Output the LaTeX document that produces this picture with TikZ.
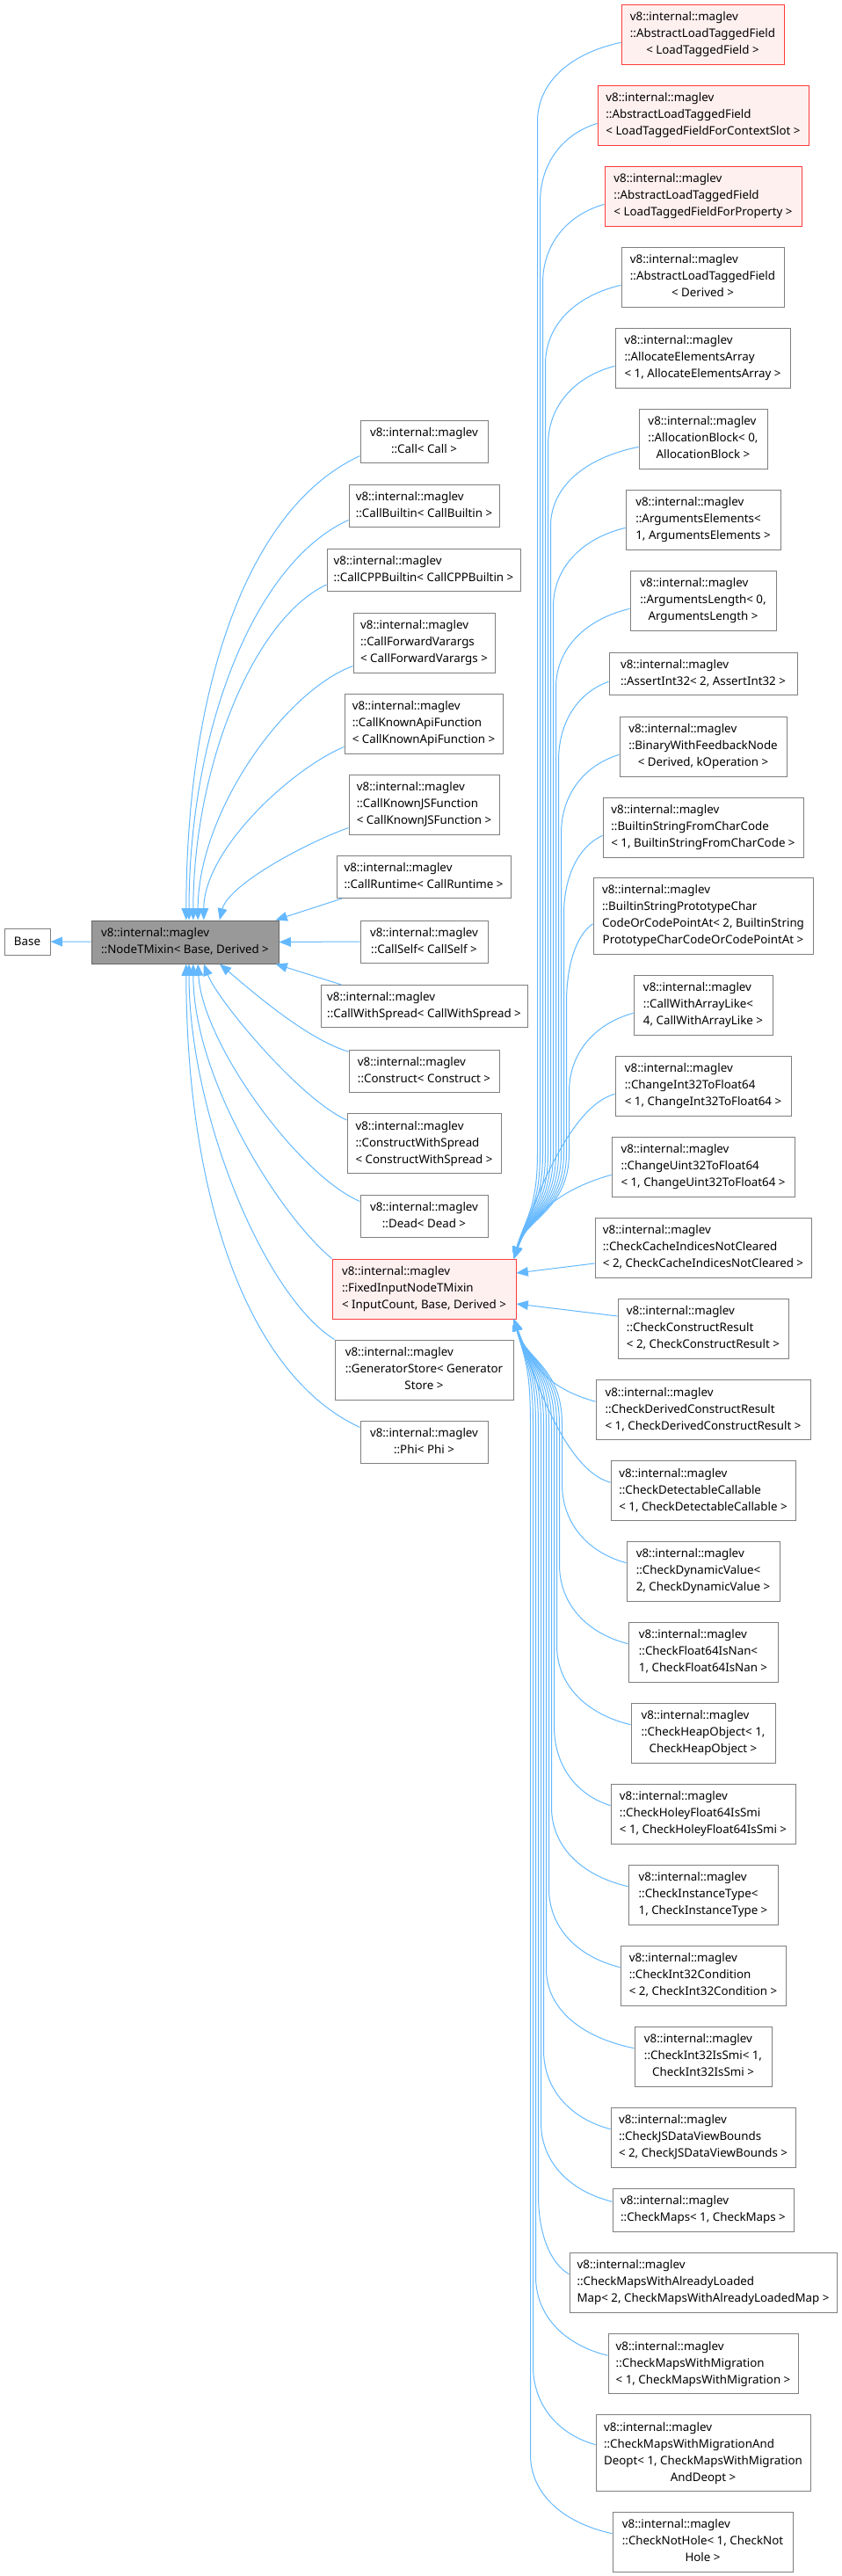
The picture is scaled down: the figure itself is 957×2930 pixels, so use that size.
\documentclass[tikz,border=0pt]{standalone}
\usepackage{fontspec}
\setmainfont{Noto Sans}
\usetikzlibrary{arrows.meta}
\definecolor{edgeblue}{HTML}{63B8FF}
\definecolor{boxgray}{HTML}{7F7F7F}
\definecolor{curgray}{HTML}{999999}
\definecolor{curline}{HTML}{666666}
\definecolor{truncred}{HTML}{FF3B3B}
\definecolor{truncfill}{HTML}{FFF0F0}
\newcommand{\clsfont}{\fontsize{10}{14.3}\selectfont}
% all lines but the last left-aligned, last one centred
\newcommand{\lbl}[2]{\begin{tabular}{@{}l@{}}#1\\\multicolumn{1}{@{}c@{}}{#2}\end{tabular}}
\tikzset{
  cls/.style={draw=boxgray, fill=white, line width=0.75pt, inner sep=0pt, font=\clsfont},
  trunc/.style={cls, draw=truncred, fill=truncfill},
  cur/.style={cls, draw=curline, fill=curgray},
  sz/.style 2 args={minimum width=#1*0.75pt, minimum height=#2*0.75pt},
  inh/.style={draw=edgeblue, line width=0.75pt, -{Triangle[length=10pt,width=8pt]}}
}
\begin{document}
\begin{tikzpicture}[x=0.75pt,y=-0.75pt]
\useasboundingbox (0,0) rectangle (957,2930);
% left
\node[cls,sz={52}{30}] (base) at (31,1071) {Base};
\node[cur,sz={213}{49}] (nt) at (210.5,1071.5) {\lbl{v8::internal::maglev}{::NodeTMixin< Base, Derived >}};
% middle column
\node[cls,sz={145}{48}] (call) at (482.5,502) {\lbl{v8::internal::maglev}{::Call< Call >}};
\node[cls,sz={171}{48}] (callb) at (482.5,575) {\lbl{v8::internal::maglev}{::CallBuiltin< CallBuiltin >}};
\node[cls,sz={220}{48}] (callcpp) at (482,648.5) {\lbl{v8::internal::maglev}{::CallCPPBuiltin< CallCPPBuiltin >}};
\node[cls,sz={161}{68}] (callfv) at (482.5,731) {\lbl{v8::internal::maglev\\::CallForwardVarargs}{< CallForwardVarargs >}};
\node[cls,sz={180}{68}] (callapi) at (482,823) {\lbl{v8::internal::maglev\\::CallKnownApiFunction}{< CallKnownApiFunction >}};
\node[cls,sz={171}{68}] (calljs) at (482.5,915) {\lbl{v8::internal::maglev\\::CallKnownJSFunction}{< CallKnownJSFunction >}};
\node[cls,sz={198}{48}] (callrt) at (482,997.5) {\lbl{v8::internal::maglev}{::CallRuntime< CallRuntime >}};
\node[cls,sz={145}{48}] (callself) at (482.5,1071) {\lbl{v8::internal::maglev}{::CallSelf< CallSelf >}};
\node[cls,sz={235}{48}] (callws) at (482.5,1144.5) {\lbl{v8::internal::maglev}{::CallWithSpread< CallWithSpread >}};
\node[cls,sz={171}{48}] (cons) at (482.5,1218) {\lbl{v8::internal::maglev}{::Construct< Construct >}};
\node[cls,sz={175}{68}] (consws) at (482.5,1300.5) {\lbl{v8::internal::maglev\\::ConstructWithSpread}{< ConstructWithSpread >}};
\node[cls,sz={145}{48}] (dead) at (482.5,1383) {\lbl{v8::internal::maglev}{::Dead< Dead >}};
\node[trunc,sz={209}{68}] (fixed) at (482.5,1466) {\lbl{v8::internal::maglev\\::FixedInputNodeTMixin}{< InputCount, Base, Derived >}};
\node[cls,sz={203}{68}] (gen) at (482.5,1558) {\lbl{v8::internal::maglev\\::GeneratorStore< Generator}{Store >}};
\node[cls,sz={145}{48}] (phi) at (482.5,1640) {\lbl{v8::internal::maglev}{::Phi< Phi >}};
% right column
\node[trunc,sz={185}{68}] (altfa) at (799.5,39) {\lbl{v8::internal::maglev\\::AbstractLoadTaggedField}{< LoadTaggedField >}};
\node[trunc,sz={240}{68}] (altfb) at (800,131) {\lbl{v8::internal::maglev\\::AbstractLoadTaggedField}{< LoadTaggedFieldForContextSlot >}};
\node[trunc,sz={224}{68}] (altfc) at (800,223) {\lbl{v8::internal::maglev\\::AbstractLoadTaggedField}{< LoadTaggedFieldForProperty >}};
\node[cls,sz={185}{68}] (altfd) at (799.5,315) {\lbl{v8::internal::maglev\\::AbstractLoadTaggedField}{< Derived >}};
\node[cls,sz={199}{68}] (allocarr) at (799.5,407) {\lbl{v8::internal::maglev\\::AllocateElementsArray}{< 1, AllocateElementsArray >}};
\node[cls,sz={146}{68}] (allocblk) at (800,499) {\lbl{v8::internal::maglev\\::AllocationBlock< 0,}{AllocationBlock >}};
\node[cls,sz={176}{68}] (argelem) at (800,591) {\lbl{v8::internal::maglev\\::ArgumentsElements<}{1, ArgumentsElements >}};
\node[cls,sz={166}{68}] (arglen) at (800,683) {\lbl{v8::internal::maglev\\::ArgumentsLength< 0,}{ArgumentsLength >}};
\node[cls,sz={214}{48}] (assert) at (800,766) {\lbl{v8::internal::maglev}{::AssertInt32< 2, AssertInt32 >}};
\node[cls,sz={190}{68}] (binfb) at (800,849) {\lbl{v8::internal::maglev\\::BinaryWithFeedbackNode}{< Derived, kOperation >}};
\node[cls,sz={228}{68}] (bsfcc) at (800,941) {\lbl{v8::internal::maglev\\::BuiltinStringFromCharCode}{< 1, BuiltinStringFromCharCode >}};
\node[cls,sz={250}{87}] (bspcc) at (800,1041.5) {\lbl{v8::internal::maglev\\::BuiltinStringPrototypeChar\\CodeOrCodePointAt< 2, BuiltinString}{PrototypeCharCodeOrCodePointAt >}};
\node[cls,sz={158}{68}] (callarr) at (800,1143) {\lbl{v8::internal::maglev\\::CallWithArrayLike<}{4, CallWithArrayLike >}};
\node[cls,sz={200}{68}] (chi2f) at (800,1235) {\lbl{v8::internal::maglev\\::ChangeInt32ToFloat64}{< 1, ChangeInt32ToFloat64 >}};
\node[cls,sz={208}{68}] (chu2f) at (800,1327) {\lbl{v8::internal::maglev\\::ChangeUint32ToFloat64}{< 1, ChangeUint32ToFloat64 >}};
\node[cls,sz={246}{68}] (ccinc) at (800,1419) {\lbl{v8::internal::maglev\\::CheckCacheIndicesNotCleared}{< 2, CheckCacheIndicesNotCleared >}};
\node[cls,sz={194}{68}] (ccr) at (800,1511) {\lbl{v8::internal::maglev\\::CheckConstructResult}{< 2, CheckConstructResult >}};
\node[cls,sz={244}{68}] (cdcr) at (800,1603.5) {\lbl{v8::internal::maglev\\::CheckDerivedConstructResult}{< 1, CheckDerivedConstructResult >}};
\node[cls,sz={210}{68}] (cdc) at (800,1695.5) {\lbl{v8::internal::maglev\\::CheckDetectableCallable}{< 1, CheckDetectableCallable >}};
\node[cls,sz={174}{68}] (cdv) at (800,1787) {\lbl{v8::internal::maglev\\::CheckDynamicValue<}{2, CheckDynamicValue >}};
\node[cls,sz={170}{68}] (cfn) at (800,1879) {\lbl{v8::internal::maglev\\::CheckFloat64IsNan<}{1, CheckFloat64IsNan >}};
\node[cls,sz={164}{68}] (cho) at (800,1971) {\lbl{v8::internal::maglev\\::CheckHeapObject< 1,}{CheckHeapObject >}};
\node[cls,sz={210}{68}] (chf) at (800,2063) {\lbl{v8::internal::maglev\\::CheckHoleyFloat64IsSmi}{< 1, CheckHoleyFloat64IsSmi >}};
\node[cls,sz={170}{68}] (cit) at (800,2155) {\lbl{v8::internal::maglev\\::CheckInstanceType<}{1, CheckInstanceType >}};
\node[cls,sz={188}{68}] (cic) at (800,2247) {\lbl{v8::internal::maglev\\::CheckInt32Condition}{< 2, CheckInt32Condition >}};
\node[cls,sz={156}{68}] (cis) at (800,2339) {\lbl{v8::internal::maglev\\::CheckInt32IsSmi< 1,}{CheckInt32IsSmi >}};
\node[cls,sz={210}{68}] (cjs) at (800,2431) {\lbl{v8::internal::maglev\\::CheckJSDataViewBounds}{< 2, CheckJSDataViewBounds >}};
\node[cls,sz={206}{49}] (cmaps) at (800,2513.5) {\lbl{v8::internal::maglev}{::CheckMaps< 1, CheckMaps >}};
\node[cls,sz={304}{68}] (cmal) at (800,2596) {\lbl{v8::internal::maglev\\::CheckMapsWithAlreadyLoaded}{Map< 2, CheckMapsWithAlreadyLoadedMap >}};
\node[cls,sz={216}{68}] (cmwm) at (800,2688.5) {\lbl{v8::internal::maglev\\::CheckMapsWithMigration}{< 1, CheckMapsWithMigration >}};
\node[cls,sz={244}{87}] (cmwd) at (800,2790) {\lbl{v8::internal::maglev\\::CheckMapsWithMigrationAnd\\Deopt< 1, CheckMapsWithMigration}{AndDeopt >}};
\node[cls,sz={205}{68}] (cnh) at (799.5,2891) {\lbl{v8::internal::maglev\\::CheckNotHole< 1, CheckNot}{Hole >}};
% inheritance edges
\draw[inh] (nt) -- (base);
\draw[inh] ([yshift=6pt]call.south west) .. controls +(-134,62) and +(0,-250) .. ([xshift=1pt]nt.north);
\draw[inh] ([yshift=6pt]callb.south west) .. controls +(-110,50) and +(0,-210) .. ([xshift=3.4pt]nt.north);
\draw[inh] ([yshift=6pt]callcpp.south west) .. controls +(-85,40) and +(0,-170) .. ([xshift=7pt]nt.north);
\draw[inh] ([yshift=6pt]callfv.south west) .. controls +(-80,30) and +(0,-120) .. ([xshift=11pt]nt.north);
\draw[inh] ([yshift=6pt]callapi.south west) .. controls +(-60,25) and +(0,-80) .. ([xshift=16pt]nt.north);
\draw[inh] ([yshift=6pt]calljs.south west) .. controls +(-50,18) and +(10,-40) .. ([xshift=29.5pt]nt.north);
\draw[inh] ([xshift=5pt]callrt.south west) -- ([xshift=-3pt]nt.north east);
\draw[inh] (callself.west) -- (nt.east);
\draw[inh] ([xshift=18pt]callws.north west) -- ([xshift=-3pt]nt.south east);
\draw[inh] ([yshift=-2pt]cons.north west) .. controls +(-50,-15) and +(30,25) .. ([xshift=29.5pt]nt.south);
\draw[inh] ([yshift=-6pt]consws.north west) .. controls +(-55,-25) and +(15,40) .. ([xshift=16pt]nt.south);
\draw[inh] ([yshift=-6pt]dead.north west) .. controls +(-70,-30) and +(5,90) .. ([xshift=11pt]nt.south);
\draw[inh] (fixed.north west) .. controls +(-60,-50) and +(0,130) .. ([xshift=7pt]nt.south);
\draw[inh] (gen.north west) .. controls +(-80,-50) and +(0,170) .. ([xshift=3.4pt]nt.south);
\draw[inh] ([yshift=-6pt]phi.north west) .. controls +(-134,-62) and +(0,250) .. ([xshift=1pt]nt.south);
% right column into FixedInputNodeTMixin
\foreach \n/\y/\dx in {altfa/39/95, altfb/131/65, altfc/223/70, altfd/315/86, allocarr/407/76, allocblk/499/100, argelem/591/82, arglen/683/84, assert/766/57, binfb/849/66, bsfcc/941/44, bspcc/1041.5/30, callarr/1143/73}{
  \pgfmathsetmacro\len{1212-\y}
  \pgfmathsetmacro\cx{-0.6*\dx}
  \draw[inh] ([yshift=-7pt]\n.west) .. controls +(\cx,12) and +(0,-45) .. ++(-\dx,90) -- ++(0,\len) .. controls +(0,65) and +(12,-45) .. ([xshift=-2pt]fixed.north east);
}
\foreach \n in {chi2f, chu2f}
  \draw[inh] ([yshift=-7pt]\n.west) .. controls +(-55,15) and +(18,-50) .. ([xshift=-2pt]fixed.north east);
\draw[inh] ([yshift=-13.5pt]ccinc.west) -- ([yshift=13.5pt]fixed.east);
\draw[inh] ([yshift=10.5pt]ccr.west) -- ([yshift=-12.75pt]fixed.east);
\foreach \n in {cdcr, cdc}
  \draw[inh] ([yshift=7pt]\n.west) .. controls +(-55,-15) and +(18,50) .. ([xshift=-2pt]fixed.south east);
\foreach \n/\y/\dx in {cdv/1787/73, cfn/1879/78, cho/1971/84, chf/2063/64, cit/2155/87, cic/2247/81, cis/2339/100, cjs/2431/76, cmaps/2513.5/81, cmal/2596/35, cmwm/2688.5/82, cmwd/2790/71, cnh/2891/93}{
  \pgfmathsetmacro\len{\y-1719}
  \pgfmathsetmacro\cx{-0.6*\dx}
  \draw[inh] ([yshift=7pt]\n.west) .. controls +(\cx,-12) and +(0,45) .. ++(-\dx,-90) -- ++(0,-\len) .. controls +(0,-65) and +(12,45) .. ([xshift=-2pt]fixed.south east);
}
\end{tikzpicture}
\end{document}
